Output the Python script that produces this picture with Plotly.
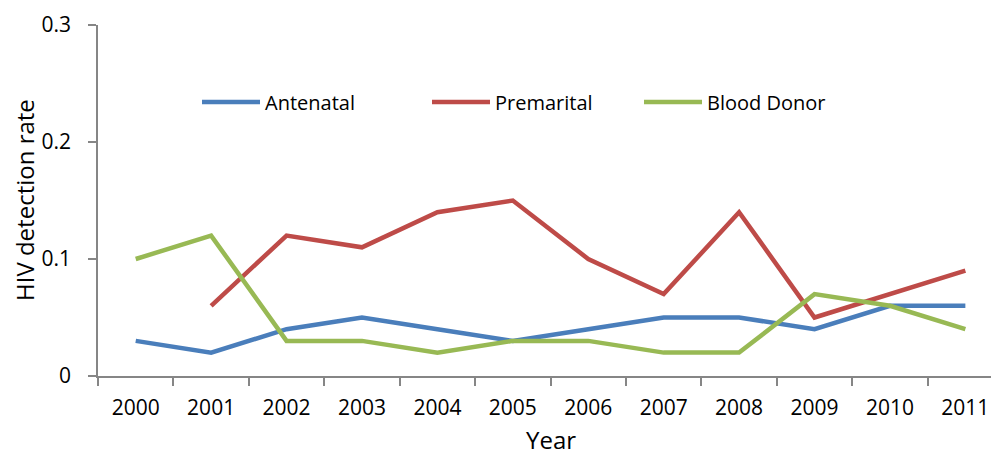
import plotly.graph_objects as go

years = ["2000", "2001", "2002", "2003", "2004", "2005", "2006", "2007", "2008", "2009", "2010", "2011"]
antenatal = [0.03, 0.02, 0.04, 0.05, 0.04, 0.03, 0.04, 0.05, 0.05, 0.04, 0.06, 0.06]
premarital = [None, 0.06, 0.12, 0.11, 0.14, 0.15, 0.10, 0.07, 0.14, 0.05, 0.07, 0.09]
blood_donor = [0.10, 0.12, 0.03, 0.03, 0.02, 0.03, 0.03, 0.02, 0.02, 0.07, 0.06, 0.04]
y_ticks = [0, 0.1, 0.2, 0.3]
y_tick_labels = ["0", "0.1", "0.2", "0.3"]

FONT = "Open Sans"
W, H = 991, 457
L, R, T, B = 98, 0, 25, 81
PW, PH = W - L - R, H - T - B

def px_x(x):
    return (x - L) / PW

def px_y(y):
    return (H - B - y) / PH

fig = go.Figure()
series = [("Antenatal", antenatal, "#4A7EBB", "legend", 197),
          ("Premarital", premarital, "#BE4B48", "legend2", 427),
          ("Blood Donor", blood_donor, "#98B954", "legend3", 639)]
for name, vals, col, leg, lx in series:
    fig.add_trace(go.Scatter(x=years, y=vals, name=name, mode="lines",
                             line=dict(color=col, width=4.5), connectgaps=False,
                             legend=leg))

legend_common = dict(orientation="h", xanchor="left", yanchor="middle",
                     font=dict(family=FONT, size=20, color="black"),
                     bgcolor="rgba(0,0,0,0)", itemwidth=58)
fig.update_layout(
    width=W, height=H,
    margin=dict(l=L, r=R, t=T, b=B, autoexpand=False),
    paper_bgcolor="white", plot_bgcolor="white",
    font=dict(family=FONT, size=20, color="black"),
    showlegend=True,
    legend=dict(x=px_x(series[0][4]), y=px_y(102), **legend_common),
    legend2=dict(x=px_x(series[1][4]), y=px_y(102), **legend_common),
    legend3=dict(x=px_x(series[2][4]), y=px_y(102), **legend_common),
    xaxis=dict(type="category", range=[-0.5, 11.34], showline=True, linecolor="#868686",
               linewidth=1.5, ticks="outside", tickson="boundaries", ticklen=8,
               tickcolor="#868686", tickwidth=1.5, showgrid=False, zeroline=False,
               ticklabelstandoff=12, automargin=False,
               tickfont=dict(family=FONT, size=21, color="black")),
    yaxis=dict(range=[0, 0.3], tickvals=y_ticks, ticktext=y_tick_labels, showline=True,
               linecolor="#868686", linewidth=1.5, ticks="outside", ticklen=8,
               tickcolor="#868686", tickwidth=1.5, showgrid=False, zeroline=False,
               ticklabelstandoff=13, automargin=False,
               tickfont=dict(family=FONT, size=21, color="black")),
    annotations=[
        dict(text="HIV detection rate", textangle=-90, xref="paper", yref="paper",
             x=px_x(24), y=px_y(200), xanchor="center", yanchor="middle",
             showarrow=False, font=dict(family=FONT, size=24, color="black")),
        dict(text="Year", xref="paper", yref="paper",
             x=px_x(551), y=px_y(439), xanchor="center", yanchor="middle",
             showarrow=False, font=dict(family=FONT, size=24, color="black")),
    ],
)
fig.write_html("out.html", config={"displayModeBar": False},
               post_script="document.body.style.margin='0';document.body.style.overflow='hidden';")
